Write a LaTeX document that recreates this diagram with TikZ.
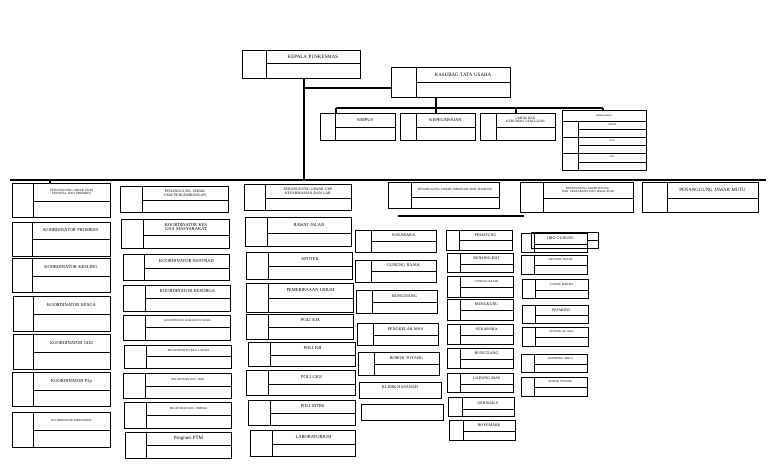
\documentclass[tikz,border=0pt]{standalone}
\usepackage{fontspec}
\setmainfont{Liberation Serif}
\usetikzlibrary{calc}
\tikzset{obox/.style={draw,line width=0.9pt,inner sep=0pt,outer sep=0pt,anchor=north west},
 lbl/.style={align=center,inner sep=0pt,font=\fontsize{5}{5.5}\selectfont},
 conn/.style={line width=1.2pt}}
% name x1 y1 x2 y2 splitx midy text fontsize
\newcommand{\ob}[9]{%
 \node[obox,minimum width={(#4-#2)*1pt},minimum height={(#5-#3)*1pt}] (#1) at (#2,#3) {};
 \draw[line width=0.9pt] (#6,#3)--(#6,#5) (#6,#7)--(#4,#7);
 \node[lbl,font=\fontsize{#9}{#9}\selectfont,text width={(#4-#6-4)*1pt}] at ($(#6,#3)!0.5!(#4,#7)$) {#8};}
\begin{document}
\begin{tikzpicture}[x=1pt,y=-1pt]
\useasboundingbox (0,0) rectangle (768,466);
% top
\ob{kepala}{242}{50}{360}{78}{266}{63}{KEPALA PUSKESMAS}{5}
\ob{kasubag}{391}{67}{510}{97}{416}{82}{KASUBAG TATA USAHA}{5}
\ob{simpus}{320}{113}{395}{140}{335}{127}{SIMPUS}{4.5}
\ob{kepeg}{400}{113}{475}{140}{416}{127}{KEPEGAWAIAN}{4.5}
\ob{umum}{480}{113}{555}{140}{496}{127}{UMUM DAN KERUMAH TANGGAAN}{3.5}
% right finance box
\node[obox,minimum width=84pt,minimum height=60pt] (keu) at (562,110) {};
\draw[line width=0.9pt] (562,121)--(646,121) (578,121)--(578,170)
 (562,137)--(646,137) (562,153)--(646,153) (578,129)--(646,129) (578,145)--(646,145) (578,162)--(646,162);
\node[lbl,font=\fontsize{2.5}{2.5}\selectfont] at (604,115.5) {BENDAHARA};
\node[lbl,font=\fontsize{2.5}{2.5}\selectfont] at (612,125) {UMUM};
\node[lbl,font=\fontsize{2.5}{2.5}\selectfont] at (612,141) {BOK};
\node[lbl,font=\fontsize{2.5}{2.5}\selectfont] at (612,157) {JKN};
% connectors top
\coordinate (bus) at (304,180);
\coordinate (busL) at (10,180);
\coordinate (busR) at (766,180);
\coordinate (kj) at (304,88);
\coordinate (tb) at (436,108);
\draw[conn,line width=1.6pt] (kepala.south -| bus) -- (bus);
\draw[conn,line width=1.6pt] (busL) -- (busR);
\draw[conn] (kj) -- (kj -| kasubag.west);
\draw[conn] (kasubag.south -| tb) -- (tb);
\draw[conn] (336,108) -- (603,108);
\draw[conn] (336,108) -- (simpus.north -| 336,0);
\draw[conn] (436,108) -- (kepeg.north -| 436,0);
\draw[conn] (516,108) -- (umum.north -| 516,0);
\draw[conn] (603,108) -- (keu.north -| 603,0);
% heads
\ob{h1}{12}{183}{110}{217}{33}{201}{PENANGGUNG JAWAB UKM ESENSIAL DAN PROMKES}{3.2}
\draw[conn] (50,180) -- (h1.north -| 50,0);
\ob{h2}{120}{186}{228}{212}{142}{200}{PENANGGUNG JAWAB UKM PENGEMBANGAN}{3.8}
\ob{h3}{244}{184}{351}{210}{265}{198}{PENANGGUNG JAWAB UKP KEFARMASIAN DAN LAB}{3.8}
\ob{h4}{388}{182}{499}{208}{411}{197}{PENANGGUNG JAWAB JARINGAN DAN JEJARING}{3.2}
\ob{h5}{520}{182}{633}{212}{543}{198}{PENANGGUNG JAWAB BANGUNAN, PRASARANA DAN PERALATAN}{3}
\ob{h6}{642}{182}{758}{212}{667}{198}{PENANGGUNG JAWAB MUTU}{4.8}
\coordinate (l4a) at (398,216);
\coordinate (l4b) at (524,216);
\draw[conn] (l4a) -- (l4b);
% col1
\ob{c11}{12}{222}{110}{256}{32}{239}{KOORDINATOR PROMKES}{4.5}
\ob{c12}{12}{258}{110}{292}{32}{276}{KOORDINATOR KESLING}{4.5}
\ob{c13}{13}{296}{110}{331}{33}{314}{KOORDINATOR KESGA}{4.5}
\ob{c14}{13}{334}{110}{369}{33}{352}{KOORDINATOR GIZI}{4.5}
\ob{c15}{12}{372}{110}{406}{33}{390}{KOORDINATOR P2p}{4.5}
\ob{c16}{12}{412}{110}{447}{33}{430}{KOORDINATOR PERKESMAS}{3}
% col2
\ob{c21}{121}{219}{229}{248}{143}{235}{KOORDINATOR KES GIGI MASYARAKAT}{4.5}
\ob{c22}{123}{254}{229}{280}{144}{268}{KOORDINATOR KESTRAD}{4.5}
\ob{c23}{123}{285}{230}{311}{145}{298}{KOORDINATOR KESORGA}{4.5}
\ob{c24}{123}{315}{230}{340}{145}{327}{KOORDINATOR KESEHATAN KERJA}{2.8}
\ob{c25}{124}{345}{231}{368}{146}{356}{PELAYANANAN KES. LANSIA}{3}
\ob{c26}{123}{373}{231}{398}{145}{386}{PELAYANAN KES. HAJI}{3}
\ob{c27}{124}{402}{231}{428}{146}{415}{PELAYANAN KES. INDERA}{3}
\ob{c28}{125}{432}{231}{458}{146}{445}{Program PTM}{5}
% col3
\ob{c31}{245}{217}{351}{246}{267}{233}{RAWAT JALAN}{4.5}
\ob{c32}{246}{252}{352}{279}{268}{266}{APOTEK}{4.5}
\ob{c33}{246}{283}{353}{312}{268}{298}{PEMERIKSAAN UMUM}{4.5}
\ob{c34}{246}{314}{353}{339}{268}{327}{POLI KIA}{4.5}
\ob{c35}{248}{342}{355}{366}{270}{355}{POLI KB}{4.5}
\ob{c36}{246}{370}{355}{395}{268}{384}{POLI GIGI}{4.5}
\ob{c37}{248}{400}{355}{425}{270}{413}{POLI MTBS}{4.5}
\ob{c38}{250}{430}{355}{456}{272}{444}{LABORATORIUM}{4.5}
% col4a
\ob{d1}{355}{230}{436}{252}{371}{241}{SUKARARA}{4.2}
\ob{d2}{355}{260}{436}{282}{371}{271}{GUNUNG RAJAK}{4.2}
\ob{d3}{356}{290}{437}{313}{372}{302}{BUNGTIANG}{4.2}
\ob{d4}{357}{323}{438}{345}{373}{335}{PENGKELAK MAS}{4.2}
\ob{d5}{358}{352}{439}{375}{374}{364}{BOROK TOYANG}{4.2}
\node[obox,minimum width=82pt,minimum height=16pt] (d6) at (359,382) {};
\node[lbl,font=\fontsize{4.2}{4.2}\selectfont] at (400,387) {KLINIK HASANAH};
\node[obox,minimum width=82pt,minimum height=16pt] (d7) at (361,404) {};
% col4b
\ob{e1}{446}{230}{512}{250}{459}{240}{PEMATUNG}{4}
\ob{e2}{447}{253}{513}{272}{460}{264}{BENSING BAT}{4}
\ob{e3}{447}{276}{513}{297}{460}{287}{GUNUNG RAJAK}{3}
\ob{e4}{447}{299}{513}{320}{460}{310}{MENGKURU}{4}
\ob{e5}{447}{324}{513}{344}{460}{335}{SUKARARA}{4}
\ob{e6}{447}{348}{513}{368}{460}{359}{BUNGTIANG}{4}
\ob{e7}{447}{373}{513}{392}{460}{384}{GADUNG MAS}{4}
\ob{e8}{448}{397}{514}{416}{462}{409}{GERISAK-S}{4}
\ob{e9}{449}{420}{515}{440}{463}{431}{BOYEMARE}{4}
% col4c
\node[obox,minimum width=67pt,minimum height=16pt] (f0) at (531,232) {};
\draw[line width=0.9pt] (587,232)--(587,248) (587,240)--(598,240);
\ob{f1}{521}{233}{587}{252}{534}{244}{JIRO GUNUNG}{4}
\ob{f2}{521}{255}{587}{274}{534}{265}{MENTONG BUTER}{2.8}
\ob{f3}{522}{279}{588}{298}{535}{290}{TANAK RAKEN}{3.2}
\ob{f4}{522}{305}{588}{323}{535}{315}{PEJARING}{4}
\ob{f5}{522}{327}{588}{346}{535}{337}{PENGKELAK MAS}{2.8}
\ob{f6}{521}{354}{587}{372}{534}{364}{KEMBANG ARE-S}{3}
\ob{f7}{521}{377}{587}{396}{534}{387}{BOROK TOYANG}{3}
\end{tikzpicture}
\end{document}
